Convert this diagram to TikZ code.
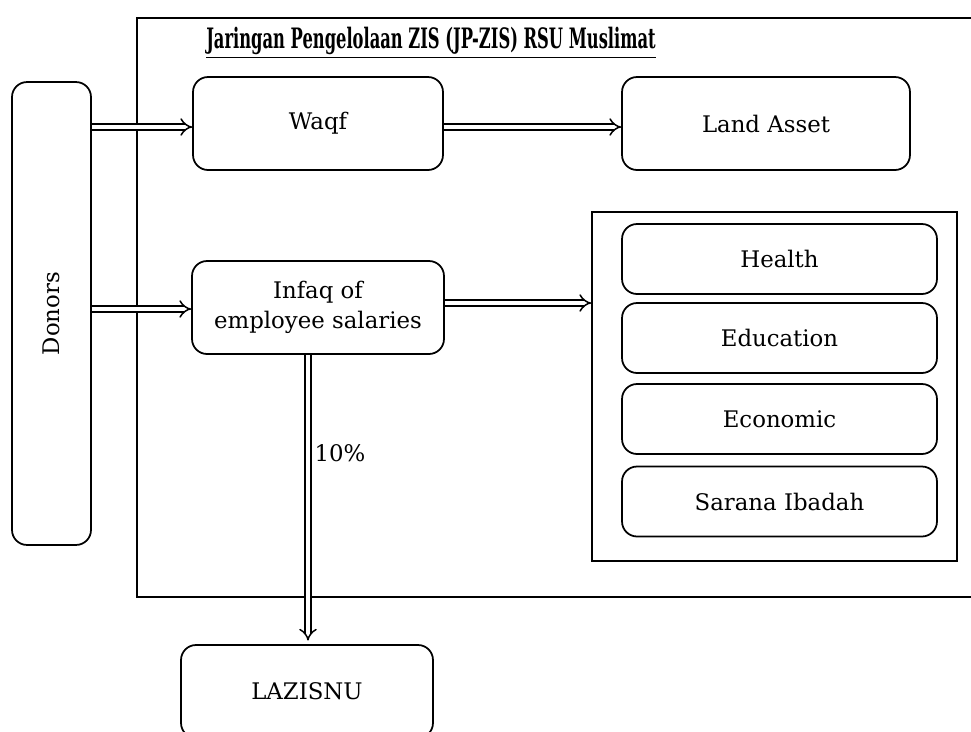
\documentclass[tikz,border=0pt]{standalone}
\usepackage{fontspec}
\setmainfont{DejaVu Serif}
\usepackage{tikz}
\usetikzlibrary{arrows}
\usetikzlibrary{calc}
\tikzstyle{block} = [draw, line width=1pt, rounded corners=0.3cm, align=center, font=\fontsize{13}{17}\selectfont]
\tikzstyle{flow} = [double, double distance=2.6pt, line width=0.85pt, -implies]

\begin{document}
\begin{tikzpicture}[x=0.02cm, y=-0.02cm]
	\useasboundingbox (0,0) rectangle (971,731) ;
	
	% outer frame, runs off to the right
	\draw[line width=1pt] (971,18) -- (137,18) -- (137,597) -- (971,597) ;
	\node (title) at (431,43) {\scalebox{0.58}[1]{\fontsize{16}{19}\selectfont\bfseries\underline{Jaringan Pengelolaan ZIS (JP-ZIS) RSU Muslimat}}} ;
	
	\node[block, minimum width=1.58cm, minimum height=9.26cm] (donors) at (51.5,313.5) {} ;
	\node[rotate=90, font=\fontsize{13}{17}\selectfont] (donorslabel) at (donors) {Donors} ;
	
	\node[block, minimum width=5cm, minimum height=1.86cm] (waqf) at (318,123.5) {Waqf} ;
	\node[block, minimum width=5.76cm, minimum height=1.86cm] (land) at (766,123.5) {Land Asset} ;
	\node[block, minimum width=5.04cm, minimum height=1.86cm] (infaq) at (318,307.5) {Infaq of\\employee salaries} ;
	\node[block, minimum width=5.04cm, minimum height=1.86cm] (lazisnu) at (307,691.5) {LAZISNU} ;
	
	\node[draw, line width=1pt, minimum width=7.3cm, minimum height=6.98cm] (panel) at (774.5,386.5) {} ;
	
	\foreach \y/\name/\txt in {259/health/Health, 338/education/Education, 419/economic/Economic, 501.5/sarana/Sarana Ibadah}
	{
		\node[block, minimum width=6.3cm, minimum height=1.4cm] (\name) at (779.5,\y) {\txt} ;
	}
	
	\draw[flow] (donors.east |- 0,127) -- (waqf.west |- 0,127) ;
	\draw[flow] (waqf.east |- 0,127) -- (land.west |- 0,127) ;
	\draw[flow] (donors.east |- 0,309) -- (infaq.west |- 0,309) ;
	\draw[flow] (infaq.east |- 0,303) -- (panel.west |- 0,303) ;
	\draw[flow, shorten >=2pt] (infaq.south -| 308,0) -- (lazisnu.north -| 308,0) node[pos=0.34, right, font=\fontsize{13}{17}\selectfont] (pct) {10\%} ;
\end{tikzpicture}
\end{document}
